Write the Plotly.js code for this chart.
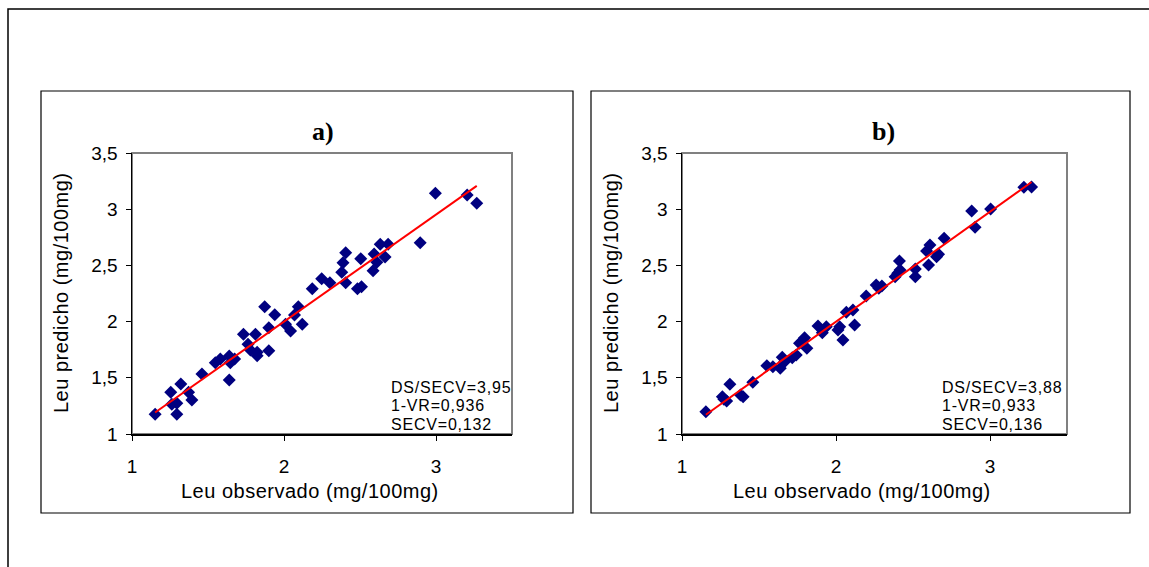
<!DOCTYPE html>
<html>
<head>
<meta charset="utf-8">
<script src="https://cdn.plot.ly/plotly-3.0.1.min.js"></script>
<style>html,body{margin:0;padding:0;background:#fff;}#chart{width:1149px;height:567px;}</style>
</head>
<body>
<div id="chart"></div>
<script>
// Panel a) observed vs predicted Leu
const obsA = [1.152,1.295,1.255,1.321,1.372,1.262,1.295,1.394,1.46,1.64,1.548,1.581,1.64,1.647,1.675,1.733,1.812,1.763,1.779,1.823,1.823,1.90,1.873,1.939,1.90,2.01,2.043,2.069,2.094,2.12,2.186,2.248,2.302,2.38,2.388,2.406,2.406,2.483,2.51,2.505,2.586,2.593,2.611,2.633,2.665,2.685,2.896,2.996,3.205,3.268];
const predA = [1.175,1.175,1.371,1.445,1.371,1.264,1.273,1.302,1.534,1.48,1.634,1.667,1.694,1.634,1.667,1.887,1.887,1.798,1.747,1.727,1.697,1.741,2.133,2.061,1.946,1.976,1.916,2.059,2.133,1.976,2.293,2.382,2.346,2.438,2.524,2.613,2.346,2.293,2.31,2.56,2.453,2.601,2.528,2.688,2.575,2.688,2.702,3.141,3.126,3.053];
// Panel b)
const obsB = [1.155,1.262,1.29,1.272,1.311,1.38,1.397,1.46,1.551,1.59,1.638,1.651,1.666,1.716,1.742,1.763,1.796,1.811,1.785,1.883,1.911,1.937,2.013,2.024,2.045,2.067,2.11,2.121,2.196,2.261,2.278,2.298,2.384,2.401,2.412,2.416,2.515,2.515,2.588,2.61,2.601,2.653,2.666,2.702,2.881,2.903,3.004,3.22,3.27];
const predB = [1.198,1.332,1.294,1.31,1.442,1.347,1.332,1.46,1.608,1.599,1.584,1.682,1.643,1.679,1.703,1.807,1.857,1.762,1.83,1.961,1.901,1.955,1.925,1.955,1.836,2.083,2.103,1.97,2.228,2.326,2.296,2.317,2.399,2.43,2.539,2.459,2.468,2.399,2.628,2.681,2.504,2.578,2.599,2.741,2.984,2.839,3.002,3.195,3.197];
const statsA = ["DS/SECV=3,95","1-VR=0,936","SECV=0,132"];
const statsB = ["DS/SECV=3,88","1-VR=0,933","SECV=0,136"];
const panelTitles = ["a)","b)"];
const xTitle = "Leu observado (mg/100mg)";
const yTitle = "Leu predicho (mg/100mg)";
const yTicks = [1,1.5,2,2.5,3,3.5];
const xTicks = [1,2,3];

const W = 1149, H = 567;
const px = x => x / W;
const py = y => 1 - y / H;

function fit(xs, ys) {
  const n = xs.length;
  const mx = xs.reduce((a,b)=>a+b,0)/n, my = ys.reduce((a,b)=>a+b,0)/n;
  let sxy=0, sxx=0;
  for (let i=0;i<n;i++){ sxy+=(xs[i]-mx)*(ys[i]-my); sxx+=(xs[i]-mx)**2; }
  const b = sxy/sxx, a = my - b*mx;
  const x0 = Math.min(...xs), x1 = Math.max(...xs);
  return {x:[x0,x1], y:[a+b*x0, a+b*x1]};
}
const fA = fit(obsA, predA), fB = fit(obsB, predB);

const navy = '#000080';
const traces = [
  {x: obsA, y: predA, type:'scatter', mode:'markers', xaxis:'x', yaxis:'y',
   marker:{symbol:'diamond', size:10, color:navy}},
  {x: fA.x, y: fA.y, type:'scatter', mode:'lines', xaxis:'x', yaxis:'y',
   line:{color:'#ff0000', width:2}},
  {x: obsB, y: predB, type:'scatter', mode:'markers', xaxis:'x2', yaxis:'y2',
   marker:{symbol:'diamond', size:10, color:navy}},
  {x: fB.x, y: fB.y, type:'scatter', mode:'lines', xaxis:'x2', yaxis:'y2',
   line:{color:'#ff0000', width:2}}
];

const sans = 'Liberation Sans, Arial, sans-serif';
const tickFont = {family:sans, size:19, color:'#000'};
const titleFont = {family:sans, size:20, color:'#000'};

function xax(domain, anchor) {
  return {domain, anchor, range:[1,3.5], tickvals:xTicks, showgrid:false, zeroline:false,
    showline:true, linecolor:'#000', linewidth:1.5, ticks:'outside', ticklen:5, tickcolor:'#000',
    tickfont:tickFont, ticklabelstandoff:10};
}
function yax(domain, anchor) {
  return {domain, anchor, range:[1,3.5], tickvals:yTicks, showgrid:false, zeroline:false,
    showline:true, linecolor:'#000', linewidth:1.5, ticks:'outside', ticklen:5, tickcolor:'#000',
    tickfont:tickFont, ticklabelstandoff:4};
}

const shapes = [
  {type:'rect', xref:'paper', yref:'paper', x0:px(8), x1:px(1160), y0:py(580), y1:py(9), line:{color:'#000', width:1.5}},
  {type:'rect', xref:'paper', yref:'paper', x0:px(41), x1:px(573), y0:py(513), y1:py(91), line:{color:'#000', width:1.2}},
  {type:'rect', xref:'paper', yref:'paper', x0:px(591), x1:px(1130), y0:py(513), y1:py(91), line:{color:'#000', width:1.2}},
  {type:'rect', xref:'x domain', yref:'y domain', x0:0, x1:1, y0:0, y1:1, line:{color:'#808080', width:2}, layer:'below'},
  {type:'rect', xref:'x2 domain', yref:'y2 domain', x0:0, x1:1, y0:0, y1:1, line:{color:'#808080', width:2}, layer:'below'}
];

const annFont = {family:sans, size:16, color:'#000'};
const annotations = [];
[[statsA, 389],[statsB, 940]].forEach(([arr, xl]) => {
  arr.forEach((t,i) => annotations.push({text:'<span style="letter-spacing:0.8px">'+t+'</span>', xref:'paper', yref:'paper', x:px(xl), y:py(387+i*18.5),
    xanchor:'left', yanchor:'middle', showarrow:false, font:annFont}));
});
[[panelTitles[0], 323],[panelTitles[1], 883]].forEach(([t,xc]) => annotations.push({text:'<b>'+t+'</b>',
  xref:'paper', yref:'paper', x:px(xc), y:py(131), xanchor:'center', yanchor:'middle', showarrow:false,
  font:{family:'Liberation Serif, Times New Roman, serif', size:26, color:'#000'}}));
// axis titles
[310, 862].forEach(xc => annotations.push({text:'<span style="letter-spacing:0.5px">'+xTitle+'</span>', xref:'paper', yref:'paper', x:px(xc), y:py(491),
  xanchor:'center', yanchor:'middle', showarrow:false, font:titleFont}));
[61, 611].forEach(xc => annotations.push({text:'<span style="letter-spacing:0.5px">'+yTitle+'</span>', xref:'paper', yref:'paper', x:px(xc), y:py(293),
  xanchor:'center', yanchor:'middle', textangle:-90, showarrow:false, font:titleFont}));

const layout = {
  width:W, height:H, margin:{l:0,r:0,t:0,b:0}, paper_bgcolor:'#fff', plot_bgcolor:'#fff',
  showlegend:false, separators:',.',
  xaxis: xax([px(132), px(512)], 'y'),
  yaxis: yax([py(434), py(153)], 'x'),
  xaxis2: xax([px(682), px(1067)], 'y2'),
  yaxis2: yax([py(434), py(153)], 'x2'),
  shapes, annotations
};
Plotly.newPlot('chart', traces, layout, {staticPlot:true, displayModeBar:false});
</script>
</body>
</html>
